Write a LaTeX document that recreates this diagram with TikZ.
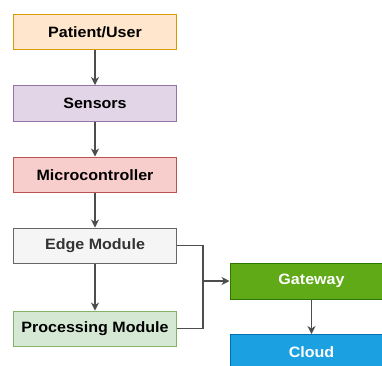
\documentclass[tikz,border=0pt]{standalone}
\usepackage{fontspec}
\setmainfont{Liberation Sans}
\newfontfamily\boxfont[FakeStretch=1.07]{Liberation Sans}
\usetikzlibrary{arrows.meta}
\definecolor{orfill}{HTML}{FFE6CC}\definecolor{ordraw}{HTML}{D79B00}
\definecolor{pufill}{HTML}{E1D5E7}\definecolor{pudraw}{HTML}{9673A6}
\definecolor{rdfill}{HTML}{F8CECC}\definecolor{rddraw}{HTML}{B85450}
\definecolor{gyfill}{HTML}{F5F5F5}\definecolor{gydraw}{HTML}{666666}\definecolor{gytext}{HTML}{333333}
\definecolor{lgfill}{HTML}{D5E8D4}\definecolor{lgdraw}{HTML}{82B366}
\definecolor{dgfill}{HTML}{60A917}\definecolor{dgdraw}{HTML}{2D7600}
\definecolor{blfill}{HTML}{1BA1E2}\definecolor{bldraw}{HTML}{006EAF}
\definecolor{wire}{HTML}{4D4D4D}
\begin{document}
\begin{tikzpicture}[x=1pt,y=-1pt,
  box/.style={draw, line width=1pt, minimum width=163pt, minimum height=35.5pt,
    inner sep=0pt, font=\boxfont\fontsize{15}{15}\selectfont\bfseries, anchor=north west},
  conn/.style={draw=wire, line width=1.1pt, -{Stealth[length=8pt,width=8pt,inset=2.5pt]}},
  plain/.style={draw=wire, line width=1.1pt}]
\useasboundingbox (0,0) rectangle (382,365);
\clip (0,0) rectangle (382,365);
\node[box, fill=orfill, draw=ordraw] (user) at (13,13.5) {Patient/User};
\node[box, fill=pufill, draw=pudraw] (sens) at (13,85) {Sensors};
\node[box, fill=rdfill, draw=rddraw] (mcu) at (13,156.5) {Microcontroller};
\node[box, fill=gyfill, draw=gydraw, text=gytext] (edge) at (13,227.5) {Edge Module};
\node[box, fill=lgfill, draw=lgdraw] (proc) at (13,310.5) {Processing Module};
\node[box, fill=dgfill, draw=dgdraw, text=white, minimum height=36pt] (gw) at (229.5,262.5) {Gateway};
\node[box, fill=blfill, draw=bldraw, text=white, minimum height=36pt] (cloud) at (229.5,334) {Cloud};
\coordinate (join) at (203,281);
\draw[conn] (user) -- (sens);
\draw[conn] (sens) -- (mcu);
\draw[conn] (mcu) -- (edge);
\draw[conn] (edge) -- (proc);
\draw[plain] (edge.east) -| (join);
\draw[plain] (proc.east) -| (join);
\draw[conn] (join) -- (gw.west);
\draw[conn] (gw) -- (cloud);
\end{tikzpicture}
\end{document}
